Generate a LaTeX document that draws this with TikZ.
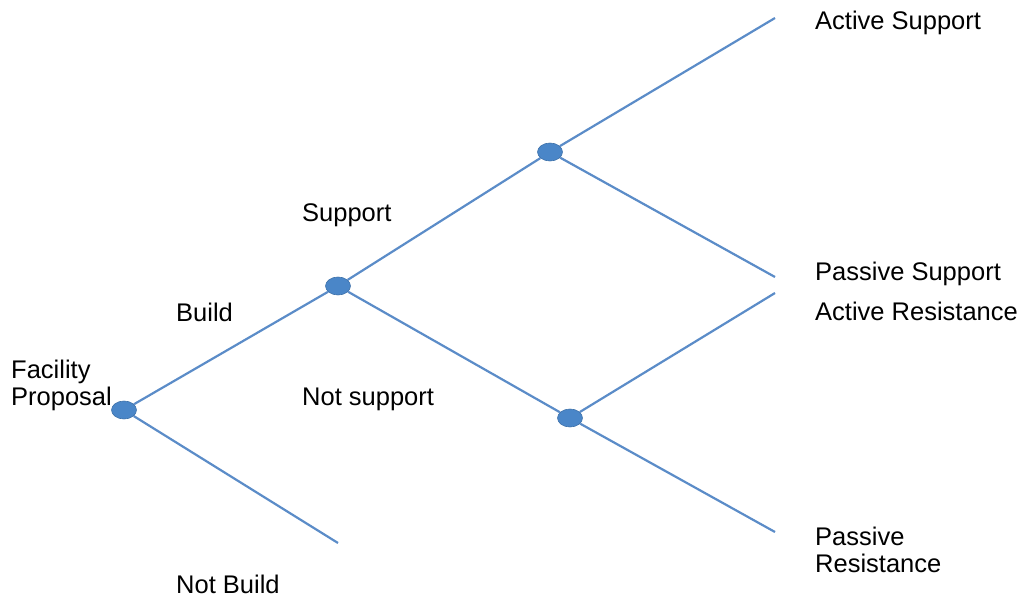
\documentclass[tikz,border=0pt]{standalone}
\usepackage{fontspec}
\setmainfont{Liberation Sans}
\usetikzlibrary{shapes.geometric}
\definecolor{edgeblue}{HTML}{5B8CC8}
\definecolor{dotblue}{HTML}{4A86C8}
\begin{document}
\begin{tikzpicture}[x=1pt,y=-1pt,
  dec/.style={ellipse,draw=dotblue!85!black,line width=0.6pt,fill=dotblue,minimum width=25pt,minimum height=18pt,inner sep=0pt},
  branch/.style={draw=edgeblue,line width=2.2pt},
  lbl/.style={anchor=base west,inner sep=0pt,font=\fontsize{25.5}{27}\selectfont}]
\useasboundingbox (0,0) rectangle (1021,598);
% endpoints
\coordinate (as) at (775,18);
\coordinate (ps) at (775,277);
\coordinate (ar) at (775,293);
\coordinate (pr) at (775,532);
\coordinate (nb) at (338,543);
% decision nodes
\node[dec] (root) at (124,410) {};
\node[dec] (bld) at (338,286) {};
\node[dec] (sup) at (550,152) {};
\node[dec] (nsup) at (570,418) {};
% branches
\draw[branch] (root) -- (bld);
\draw[branch] (root) -- (nb);
\draw[branch] (bld) -- (sup);
\draw[branch] (bld) -- (nsup);
\draw[branch] (sup) -- (as);
\draw[branch] (sup) -- (ps);
\draw[branch] (nsup) -- (ar);
\draw[branch] (nsup) -- (pr);
% labels
\node[lbl] (l1) at (815,29) {Active Support};
\node[lbl] (l2) at (815,280) {Passive Support};
\node[lbl] (l3) at (815,320) {Active Resistance};
\node[lbl] (l4a) at (815,545) {Passive};
\node[lbl] (l4b) at (815,572) {Resistance};
\node[lbl] (l5) at (302,221) {Support};
\node[lbl] (l6) at (176,321) {Build};
\node[lbl] (l7) at (302,405) {Not support};
\node[lbl] (l8) at (176,593) {Not Build};
\node[lbl] (l9a) at (11,378) {Facility};
\node[lbl] (l9b) at (11,405) {Proposal};
\end{tikzpicture}
\end{document}
